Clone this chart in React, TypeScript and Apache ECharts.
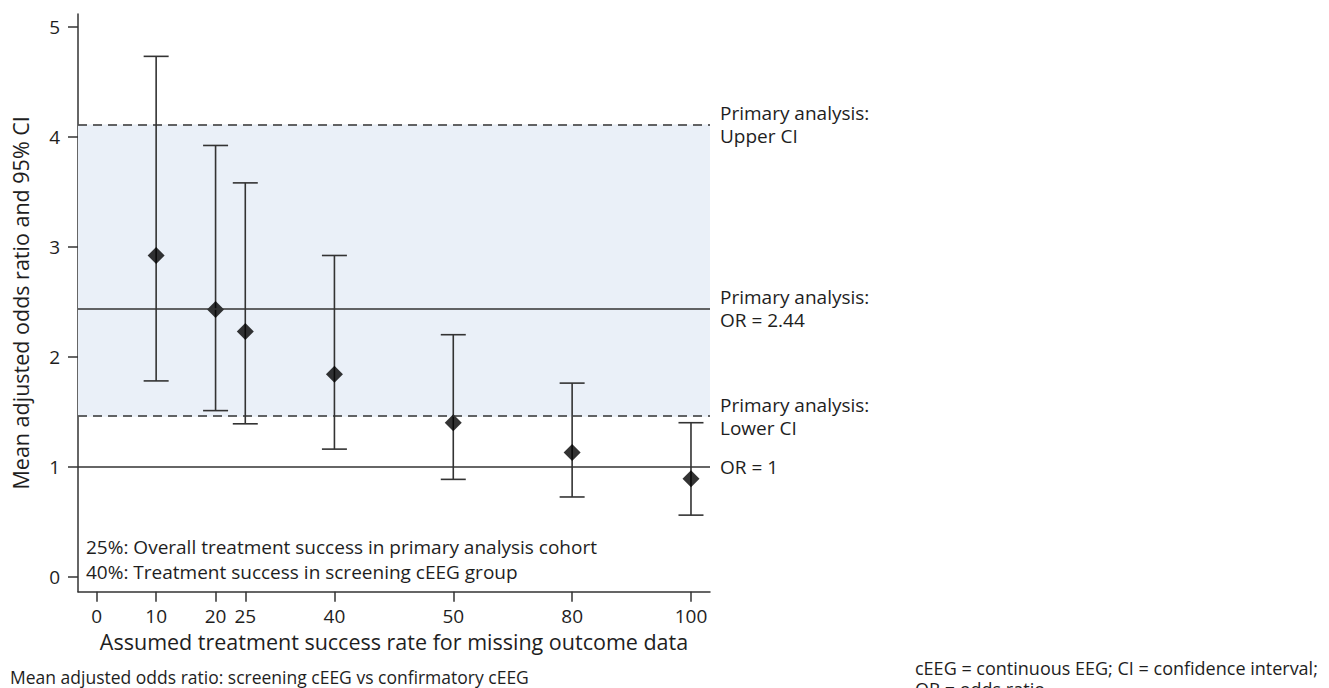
import React, { useEffect, useRef } from "react";
import * as echarts from "echarts";

// Tick labels of the x axis and the axis slot each sits at (axis is not linear)
const xTickLabels = ["0", "10", "20", "25", "40", "50", "80", "100"];
const xTickSlots = [0, 1, 2, 2.5, 4, 6, 8, 10];

// Assumed treatment success rates (%) with estimates
const successRates = [10, 20, 25, 40, 50, 80, 100];
const meanOR = [2.92, 2.43, 2.23, 1.84, 1.4, 1.13, 0.89];
const lowerCI = [1.78, 1.51, 1.39, 1.16, 0.885, 0.725, 0.56];
const upperCI = [4.73, 3.92, 3.58, 2.92, 2.2, 1.76, 1.4];

// Primary analysis reference values
const primaryOR = 2.44;
const primaryLower = 1.455;
const primaryUpper = 4.11;
const nullOR = 1;

const yTicks = [0, 1, 2, 3, 4, 5];

const FONT = "'Open Sans', 'Noto Sans', sans-serif";
const INK = "#333333";
const TXT = "#1e1e1e";

function slotOf(rate: number): number {
  const i = xTickLabels.indexOf(String(rate));
  return xTickSlots[i];
}

export default function App() {
  const ref = useRef<HTMLDivElement>(null);

  useEffect(() => {
    if (!ref.current) return;
    const chart = echarts.init(ref.current, null, { renderer: "svg" });

    const errData = successRates.map((r, i) => [slotOf(r), lowerCI[i], upperCI[i]]);
    const ptData = successRates.map((r, i) => [slotOf(r), meanOR[i]]);

    const option: any = {
      animation: false,
      textStyle: { fontFamily: FONT },
      grid: { left: 78, top: 14, width: 632, height: 577.7 },
      xAxis: {
        type: "value",
        min: -0.315,
        max: 10.32,
        name: "Assumed treatment success rate for missing outcome data",
        nameLocation: "middle",
        nameGap: 38,
        nameTextStyle: { fontFamily: FONT, fontSize: 21.5, color: TXT },
        axisLine: { show: true, onZero: false, lineStyle: { color: INK, width: 1.5 } },
        axisTick: {
          show: true,
          inside: false,
          length: 10,
          customValues: xTickSlots,
          lineStyle: { color: INK, width: 1.5 },
        },
        axisLabel: {
          customValues: xTickSlots,
          margin: 15,
          fontFamily: FONT,
          fontSize: 19,
          color: TXT,
          formatter: (v: number) => {
            const i = xTickSlots.findIndex((s) => Math.abs(s - v) < 1e-6);
            return i >= 0 ? xTickLabels[i] : "";
          },
        },
        splitLine: { show: false },
      },
      yAxis: {
        type: "value",
        min: -0.136,
        max: 5.115,
        name: "Mean adjusted odds ratio and 95% CI",
        nameLocation: "middle",
        nameGap: 47,
        nameTextStyle: { fontFamily: FONT, fontSize: 21.5, color: TXT },
        axisLine: { show: true, onZero: false, lineStyle: { color: INK, width: 1.5 } },
        axisTick: {
          show: true,
          inside: false,
          length: 10,
          customValues: yTicks,
          lineStyle: { color: INK, width: 1.5 },
        },
        axisLabel: {
          customValues: yTicks,
          margin: 18,
          fontFamily: FONT,
          fontSize: 19,
          color: TXT,
        },
        splitLine: { show: false },
      },
      series: [
        {
          type: "line",
          data: [],
          silent: true,
          markArea: {
            silent: true,
            itemStyle: { color: "#eaf0f8" },
            data: [[{ yAxis: primaryLower }, { yAxis: primaryUpper }]],
          },
          markLine: {
            silent: true,
            symbol: ["none", "none"],
            label: {
              show: true,
              position: "end",
              distance: 10,
              fontFamily: FONT,
              fontSize: 19,
              lineHeight: 23,
              color: TXT,
              align: "left",
            },
            data: [
              {
                yAxis: primaryUpper,
                lineStyle: { type: [9, 6], color: INK, width: 1.5 },
                label: { formatter: "Primary analysis:\nUpper CI" },
              },
              {
                yAxis: primaryOR,
                lineStyle: { type: "solid", color: INK, width: 1.5 },
                label: { formatter: "Primary analysis:\nOR = 2.44" },
              },
              {
                yAxis: primaryLower,
                lineStyle: { type: [9, 6], color: INK, width: 1.5 },
                label: { formatter: "Primary analysis:\nLower CI" },
              },
              {
                yAxis: nullOR,
                lineStyle: { type: "solid", color: INK, width: 1.5 },
                label: { formatter: "OR = 1" },
              },
            ],
          },
        },
        {
          type: "custom",
          silent: true,
          data: errData,
          encode: { x: 0, y: [1, 2] },
          renderItem: (params: any, api: any) => {
            const x = api.value(0);
            const lo = api.coord([x, api.value(1)]);
            const hi = api.coord([x, api.value(2)]);
            const half = 12.5;
            const style = { stroke: INK, lineWidth: 1.6, fill: "none" };
            return {
              type: "group",
              children: [
                { type: "line", shape: { x1: lo[0], y1: lo[1], x2: hi[0], y2: hi[1] }, style },
                { type: "line", shape: { x1: lo[0] - half, y1: lo[1], x2: lo[0] + half, y2: lo[1] }, style },
                { type: "line", shape: { x1: hi[0] - half, y1: hi[1], x2: hi[0] + half, y2: hi[1] }, style },
              ],
            };
          },
          z: 3,
        },
        {
          type: "scatter",
          data: ptData,
          symbol: "diamond",
          symbolSize: [17, 17],
          itemStyle: { color: "#000" },
          z: 4,
        },
      ],
      graphic: [
        {
          type: "text",
          left: 86,
          top: 534,
          style: {
            text: "25%: Overall treatment success in primary analysis cohort\n40%: Treatment success in screening cEEG group",
            fontFamily: FONT,
            fontSize: 19,
            lineHeight: 25,
            fill: TXT,
          },
        },
        {
          type: "text",
          left: 10,
          top: 668,
          style: {
            text: "Mean adjusted odds ratio: screening cEEG vs confirmatory cEEG",
            fontFamily: FONT,
            fontSize: 17.5,
            fill: TXT,
          },
        },
        {
          type: "text",
          left: 915,
          top: 657,
          style: {
            text: "cEEG = continuous EEG; CI = confidence interval;\nOR = odds ratio",
            fontFamily: FONT,
            fontSize: 18,
            lineHeight: 21,
            fill: TXT,
          },
        },
      ],
    };

    chart.setOption(option);
    return () => chart.dispose();
  }, []);

  return (
    <div
      ref={ref}
      style={{ position: "fixed", left: 0, top: 0, width: "1329px", height: "688px", background: "#fff" }}
    />
  );
}
